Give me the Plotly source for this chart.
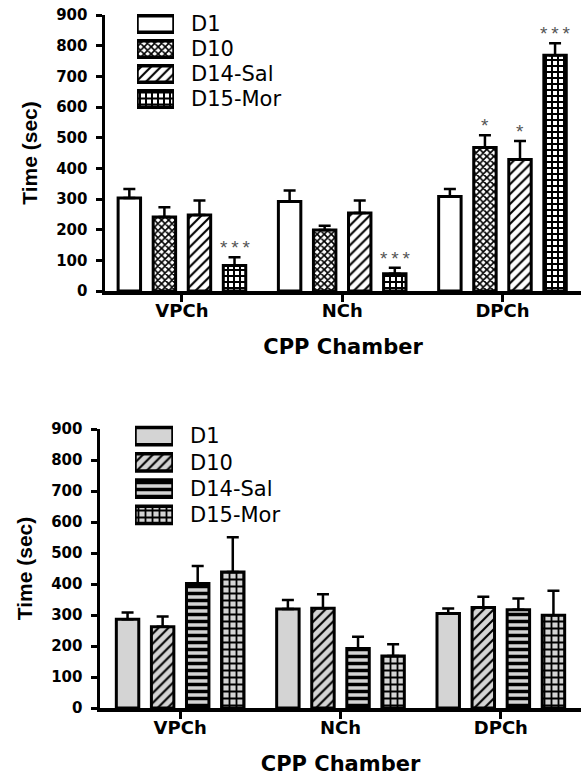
import plotly.graph_objects as go

# ---------------- data ----------------
chambers = ["VPCh", "NCh", "DPCh"]
series_names = ["D1", "D10", "D14-Sal", "D15-Mor"]

# top panel (means and upper SEM)
top_d1 = [303, 292, 308]
top_d10 = [241, 199, 468]
top_d14 = [248, 254, 429]
top_d15 = [83, 56, 769]
top_d1_err = [30, 36, 25]
top_d10_err = [32, 14, 40]
top_d14_err = [47, 41, 60]
top_d15_err = [27, 20, 39]
top_d1_sig = ["", "", ""]
top_d10_sig = ["", "", "*"]
top_d14_sig = ["", "", "*"]
top_d15_sig = ["***", "***", "***"]

# bottom panel
bot_d1 = [286, 319, 305]
bot_d10 = [262, 322, 324]
bot_d14 = [402, 192, 317]
bot_d15 = [439, 168, 299]
bot_d1_err = [22, 29, 16]
bot_d10_err = [33, 45, 35]
bot_d14_err = [56, 38, 36]
bot_d15_err = [112, 38, 79]

y_ticks = [0, 100, 200, 300, 400, 500, 600, 700, 800, 900]
y_title = "Time (sec)"
x_title = "CPP Chamber"

# ---------------- styles ----------------
W, H = 581, 777
ML, MB = 100, 69
BARGAP, BARGROUPGAP = 0.125, 0.36
LW = 3

top_styles = [
    dict(shape="", bg="white", fg="black", size=6, sol=0.3),
    dict(shape="x", bg="white", fg="black", size=5, sol=0.55),
    dict(shape="/", bg="white", fg="black", size=7, sol=0.3),
    dict(shape="+", bg="white", fg="black", size=6, sol=0.55),
]
bot_styles = [
    dict(shape="", bg="#d4d4d4", fg="black", size=6, sol=0.3),
    dict(shape="/", bg="#d4d4d4", fg="black", size=7, sol=0.3),
    dict(shape="-", bg="#d4d4d4", fg="black", size=7, sol=0.5),
    dict(shape="+", bg="#d4d4d4", fg="black", size=7, sol=0.45),
]

TICKFONT = dict(family="DejaVu Sans", size=15, color="black", weight="bold")
XTICKFONT = dict(family="DejaVu Sans", size=18, color="black", weight="bold")
XTITLEFONT = dict(family="DejaVu Sans", size=21, color="black", weight="bold")
YTITLEFONT = dict(family="Liberation Sans", size=21, color="black", weight="bold")
LEGFONT = dict(family="DejaVu Sans", size=21, color="black")


def pat(st):
    return dict(shape=st["shape"], bgcolor=st["bg"], fgcolor=st["fg"],
                size=st["size"], solidity=st["sol"], fillmode="replace")


fig = go.Figure()

top_vals = [top_d1, top_d10, top_d14, top_d15]
top_errs = [top_d1_err, top_d10_err, top_d14_err, top_d15_err]
top_sigs = [top_d1_sig, top_d10_sig, top_d14_sig, top_d15_sig]
bot_vals = [bot_d1, bot_d10, bot_d14, bot_d15]
bot_errs = [bot_d1_err, bot_d10_err, bot_d14_err, bot_d15_err]

for vals, errs, styles, xa, ya in [
    (top_vals, top_errs, top_styles, "x", "y"),
    (bot_vals, bot_errs, bot_styles, "x2", "y2"),
]:
    for name, v, e, st in zip(series_names, vals, errs, styles):
        fig.add_trace(go.Bar(
            x=chambers, y=v, name=name, xaxis=xa, yaxis=ya, showlegend=False,
            marker=dict(color=st["bg"], pattern=pat(st),
                        line=dict(color="black", width=LW)),
            error_y=dict(type="data", symmetric=False, array=e,
                         arrayminus=[0] * len(e), color="black",
                         thickness=2.5, width=6),
        ))

# legend swatches drawn as bars on their own small axes
for styles, xa, ya in [(top_styles, "x3", "y3"), (bot_styles, "x4", "y4")]:
    for name, st in zip(series_names, styles):
        fig.add_trace(go.Bar(
            y=[name], x=[1], base=0, orientation="h", offsetgroup="leg",
            xaxis=xa, yaxis=ya, showlegend=False, width=0.66,
            marker=dict(color=st["bg"], pattern=pat(st),
                        line=dict(color="black", width=3.5)),
            hoverinfo="skip",
        ))

# significance stars
slot = (1 - BARGAP) / len(series_names)
annotations = []
for si, (v, e, sg) in enumerate(zip(top_vals, top_errs, top_sigs)):
    for ci in range(len(chambers)):
        if sg[ci]:
            annotations.append(dict(
                x=ci + (si - 1.5) * slot, y=v[ci] + e[ci], xref="x", yref="y",
                text="\u2009".join(sg[ci]), showarrow=False, yanchor="bottom",
                xanchor="center", yshift=-3,
                font=dict(family="Liberation Sans", size=19, color="#555555")))


def px_dom(top_px, bot_px):
    plot_h = H - MB
    return [(plot_h - bot_px) / plot_h, (plot_h - top_px) / plot_h]


plot_w = W - ML

yax_common = dict(range=[0, 900], tickvals=y_ticks, showgrid=False,
                  zeroline=False, showline=True, linecolor="black",
                  linewidth=3.5, ticks="outside", ticklen=6, tickwidth=3,
                  tickcolor="black", tickfont=TICKFONT, automargin=False,
                  ticklabelstandoff=5,
                  title=dict(text=y_title, font=YTITLEFONT, standoff=14))
xax_common = dict(showgrid=False, zeroline=False, showline=True,
                  linecolor="black", linewidth=3.5, ticks="outside",
                  ticklen=7, tickwidth=3, tickcolor="black",
                  tickfont=XTICKFONT, automargin=False,
                  ticklabelstandoff=-6,
                  title=dict(text=x_title, font=XTITLEFONT, standoff=20),
                  categoryorder="array", categoryarray=chambers)

leg_y_common = dict(type="category", categoryorder="array",
                    categoryarray=series_names, range=[3.5, -0.5],
                    tickmode="array", tickvals=series_names,
                    ticktext=series_names,
                    showgrid=False, zeroline=False, showline=False,
                    ticks="", side="right", tickfont=LEGFONT,
                    ticklabelstandoff=16, automargin=False)

fig.update_layout(
    template="none",
    width=W, height=H,
    margin=dict(l=ML, r=0, t=0, b=MB, autoexpand=False),
    paper_bgcolor="white", plot_bgcolor="rgba(0,0,0,0)",
    barmode="group", bargap=BARGAP, bargroupgap=BARGROUPGAP,
    showlegend=False, hovermode=False,
    xaxis=dict(xax_common, domain=[5 / plot_w, 1], range=[-0.48, 2.49],
               anchor="y"),
    yaxis=dict(yax_common, domain=px_dom(15, 291), anchor="x"),
    xaxis2=dict(xax_common, domain=[0, 1], range=[-0.5, 2.5], anchor="y2"),
    yaxis2=dict(yax_common, domain=px_dom(429, 708), anchor="x2"),
    xaxis3=dict(domain=[37 / plot_w, 74 / plot_w], range=[0, 1],
                visible=False, anchor="y3", automargin=False),
    yaxis3=dict(leg_y_common, domain=px_dom(11.5, 111.5), anchor="x3"),
    xaxis4=dict(domain=[35 / plot_w, 73 / plot_w], range=[0, 1],
                visible=False, anchor="y4", automargin=False),
    yaxis4=dict(leg_y_common, domain=px_dom(423, 528), anchor="x4"),
    annotations=annotations,
)

fig.write_html(
    "out.html",
    config={"displayModeBar": False, "staticPlot": True},
    post_script="document.body.style.margin='0';"
                "document.body.style.overflow='hidden';",
)
